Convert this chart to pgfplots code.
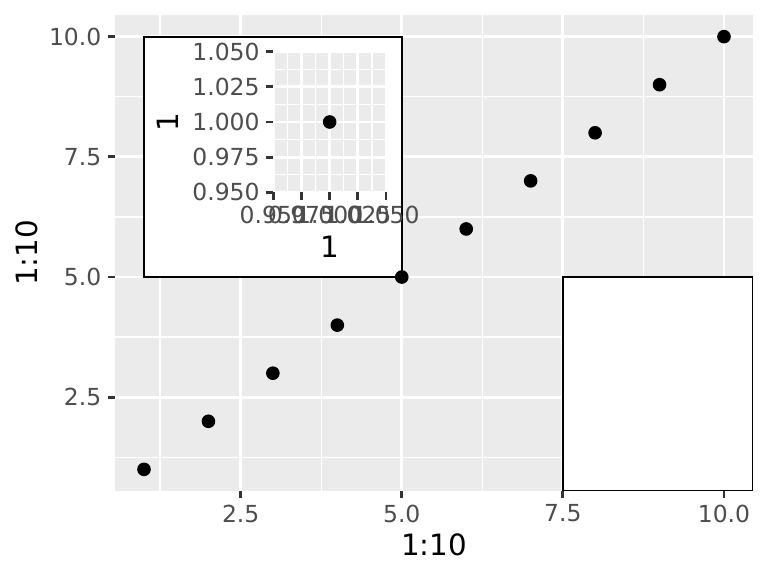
\documentclass[border=0pt]{standalone}
\usepackage{fontspec}
\setmainfont{DejaVu Sans}
\usepackage{pgfplots}
\pgfplotsset{compat=1.18}
\definecolor{grey92}{HTML}{EBEBEB}
\definecolor{grey30}{HTML}{4D4D4D}
\definecolor{grey20}{HTML}{333333}
\pgfplotsset{ggstyle/.style={
  scale only axis,
  axis background/.style={fill=grey92},
  axis line style={draw=none},
  grid=both,
  major grid style={white, line width=1.07pt},
  minor grid style={white, line width=0.53pt},
  tick align=outside,
  major tick length=2.75pt,
  minor tick length=0pt,
  tick style={grey20, line width=1.07pt},
  tick pos=left,
  ticklabel style={font=\fontsize{8.8}{10}\selectfont, text=grey30, inner sep=0pt},
  xticklabel style={anchor=north},
  yticklabel style={anchor=east},
  xticklabel shift=2.2pt,
  yticklabel shift=2.2pt,
  label style={font=\fontsize{11}{13}\selectfont, inner sep=0pt},
  /pgf/number format/assume math mode=true,
}}
\begin{document}
\begin{tikzpicture}
\path[use as bounding box] (0,0) rectangle (288pt,216pt);
\begin{axis}[ggstyle,
  at={(43.125pt,31.875pt)}, anchor=south west, width=239.25pt, height=178.5pt,
  xmin=0.55, xmax=10.45, ymin=0.55, ymax=10.45,
  xtick={2.5,5,7.5,10}, ytick={2.5,5,7.5,10},
  xticklabels={2.5,5.0,7.5,10.0}, yticklabels={2.5,5.0,7.5,10.0},
  minor xtick={1.25,3.75,6.25,8.75}, minor ytick={1.25,3.75,6.25,8.75},
  xlabel={1:10}, ylabel={1:10},
  xlabel style={at={(axis description cs:0.5,-0.11345)}, anchor=center},
  ylabel style={at={(axis description cs:-0.13793,0.5)}, anchor=center},
]
\draw[black, line width=0.75pt, fill=white] (axis cs:1,5) rectangle (axis cs:5,10);
\draw[black, line width=0.75pt, fill=white] (axis cs:7.5,0.55) rectangle (axis cs:10.45,5);
\end{axis}
\begin{axis}[ggstyle,
  at={(102.5pt,143.9pt)}, anchor=south west, width=42.25pt, height=52.7pt,
  xmin=0.95, xmax=1.05, ymin=0.95, ymax=1.05,
  xtick={0.95,0.975,1,1.025,1.05}, ytick={0.95,0.975,1,1.025,1.05},
  xticklabels={0.950,0.975,1.000,1.025,1.050}, yticklabels={0.950,0.975,1.000,1.025,1.050},
  minor x tick num=1, minor y tick num=1,
  xlabel={1}, ylabel={1},
  xlabel style={at={(axis description cs:0.5,-0.3871)}, anchor=center},
  ylabel style={at={(axis description cs:-0.9349,0.5)}, anchor=center},
]
\addplot[only marks, mark=*, mark size=2.35pt, black] coordinates {(1,1)};
\end{axis}
\begin{axis}[scale only axis, hide axis,
  at={(43.125pt,31.875pt)}, anchor=south west, width=239.25pt, height=178.5pt,
  xmin=0.55, xmax=10.45, ymin=0.55, ymax=10.45]
\addplot[only marks, mark=*, mark size=2.35pt, black] table {
x y
1 1
2 2
3 3
4 4
5 5
6 6
7 7
8 8
9 9
10 10
};
\end{axis}
\end{tikzpicture}
\end{document}
